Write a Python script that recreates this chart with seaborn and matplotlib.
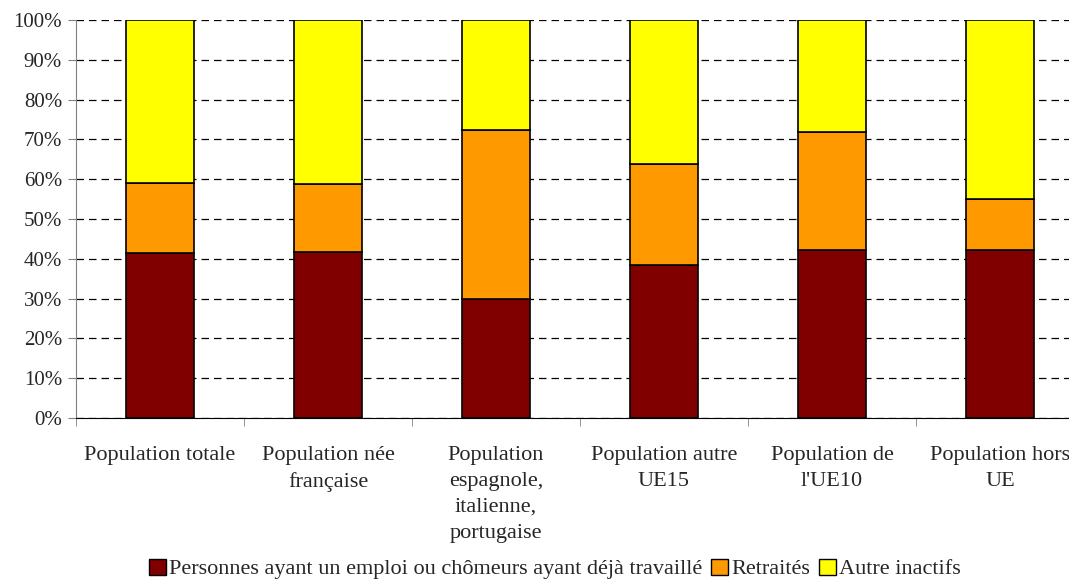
#Stacked 100% bars: activity status by population group

#import libraries
import numpy as np
import pandas as pd
import matplotlib
matplotlib.use('Agg')
import matplotlib.pyplot as plt
import seaborn as sns
from matplotlib.patches import Patch
from matplotlib.ticker import FixedLocator, PercentFormatter

#data (in %)
categories = ["Population totale", "Population née\nfrançaise",
              "Population\nespagnole,\nitalienne,\nportugaise",
              "Population autre\nUE15", "Population de\nl'UE10",
              "Population hors\nUE"]
emploi = [41.5, 41.8, 30.0, 38.5, 42.1, 42.3]
retraites = [17.5, 17.0, 42.4, 25.2, 29.7, 12.8]
autres = [41.0, 41.2, 27.6, 36.3, 28.2, 44.9]

series_names = ["Personnes ayant un emploi ou chômeurs ayant déjà travaillé",
                "Retraités", "Autre inactifs"]
colors = ["#800000", "#FF9900", "#FFFF00"]

df = pd.DataFrame({"cat": categories, "emploi": emploi,
                   "retraites": retraites, "autres": autres})

sns.set_style("white")
plt.rcParams['font.family'] = ['Liberation Serif', 'DejaVu Serif']

fig = plt.figure(figsize=(10.69, 5.81), dpi=100)
ax = fig.add_axes([76/1069, 1 - 418/581, (1084 - 76)/1069, 398/581])

#stack the three layers
bottoms = np.zeros(len(categories))
for col, c in zip(["emploi", "retraites", "autres"], colors):
    sns.barplot(data=df, x="cat", y=col, color=c, width=0.4, bottom=bottoms,
                edgecolor="black", linewidth=1.2, saturation=1, ax=ax, zorder=3)
    bottoms = bottoms + df[col].values

ax.set_xlim(-0.5, len(categories) - 0.5)
ax.set_ylim(0, 100)
ax.set_yticks(np.arange(0, 101, 10))
ax.yaxis.set_major_formatter(PercentFormatter(decimals=0))
ax.set_xlabel("")
ax.set_ylabel("")
ax.set_xticks(range(len(categories)))
ax.set_xticklabels(categories, linespacing=1.5, fontsize=16)

#dashed grid
ax.set_axisbelow(True)
ax.yaxis.grid(True, linestyle=(0, (6, 4)), color="black", linewidth=0.9)

#spines and ticks
for s in ["top", "right"]:
    ax.spines[s].set_visible(False)
ax.spines["left"].set_color("#808080")
ax.spines["bottom"].set_color("black")
ax.tick_params(axis="y", length=6, color="#808080", labelsize=15, pad=4, left=True)
ax.tick_params(axis="x", which="major", length=0, pad=20)
ax.xaxis.set_minor_locator(FixedLocator(np.arange(-0.5, len(categories), 1)))
ax.tick_params(axis="x", which="minor", length=6, color="#808080", bottom=True)

#legend at the bottom
handles = [Patch(facecolor=c, edgecolor="black", linewidth=1) for c in colors]
fig.legend(handles, series_names, loc="center", bbox_to_anchor=(555/1069, 1 - 569/581),
           ncol=3, frameon=False, fontsize=16, handlelength=0.75, handleheight=0.75,
           handletextpad=0.15, columnspacing=0.4)

plt.savefig("out.png", dpi=100)
